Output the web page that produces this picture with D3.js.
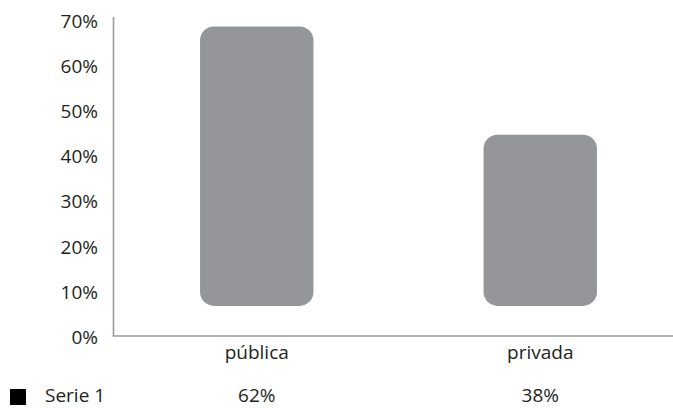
<!DOCTYPE html>
<html>
<head>
<meta charset="utf-8">
<script src="https://cdn.jsdelivr.net/npm/d3@7"></script>
<style>
  html, body { margin: 0; padding: 0; background: #fff; }
  svg { display: block; }
  text { font-family: "Open Sans", "Noto Sans", sans-serif; fill: #231f20; }
</style>
</head>
<body>
<svg id="chart" width="673" height="408"></svg>
<script>
const categories = ["pública", "privada"];
const values = [62, 38];
const valueLabels = ["62%", "38%"];
const seriesName = "Serie 1";
const yTicks = [0, 10, 20, 30, 40, 50, 60, 70];

const W = 673, H = 408;
const barBase = 6.9;
const fontSize = 19;
const barColor = "#959699";
const axisColor = "#9a9a9a";

const svg = d3.select("#chart");

const y = d3.scaleLinear().domain([0, 70]).range([337, 21.5]);
const x = d3.scaleBand().domain(categories).range([115, 682]);
const barW = x.bandwidth() * 0.4;
const axisX = 113.5;

// y tick labels
svg.append("g").selectAll("text").data(yTicks).join("text")
  .attr("x", 98).attr("y", d => y(d)).attr("dy", "0.35em")
  .attr("text-anchor", "end").style("font-size", fontSize + "px")
  .text(d => d + "%");

// axes lines
svg.append("line").attr("x1", axisX).attr("x2", axisX)
  .attr("y1", 17).attr("y2", y(0) - 1)
  .attr("stroke", axisColor).attr("stroke-width", 1.6);
svg.append("line").attr("x1", axisX - 0.8).attr("x2", W)
  .attr("y1", y(0) - 1).attr("y2", y(0) - 1)
  .attr("stroke", axisColor).attr("stroke-width", 1.6);

// bars
svg.append("g").selectAll("rect").data(categories).join("rect")
  .attr("x", d => x(d) + x.bandwidth() / 2 - barW / 2)
  .attr("width", barW)
  .attr("y", (d, i) => y(barBase + values[i]))
  .attr("height", (d, i) => y(barBase) - y(barBase + values[i]))
  .attr("rx", 14).attr("ry", 14)
  .attr("fill", barColor);

// category labels
svg.append("g").selectAll("text").data(categories).join("text")
  .attr("x", d => x(d) + x.bandwidth() / 2).attr("y", 352).attr("dy", "0.35em")
  .attr("text-anchor", "middle").style("font-size", fontSize + "px")
  .text(d => d);

// data table row
svg.append("rect").attr("x", 10).attr("y", 389).attr("width", 16).attr("height", 16)
  .attr("fill", "#000");
svg.append("text").attr("x", 45).attr("y", 395).attr("dy", "0.35em")
  .style("font-size", fontSize + "px").text(seriesName);
svg.append("g").selectAll("text").data(categories).join("text")
  .attr("x", d => x(d) + x.bandwidth() / 2).attr("y", 395).attr("dy", "0.35em")
  .attr("text-anchor", "middle").style("font-size", fontSize + "px")
  .text((d, i) => valueLabels[i]);
</script>
</body>
</html>
